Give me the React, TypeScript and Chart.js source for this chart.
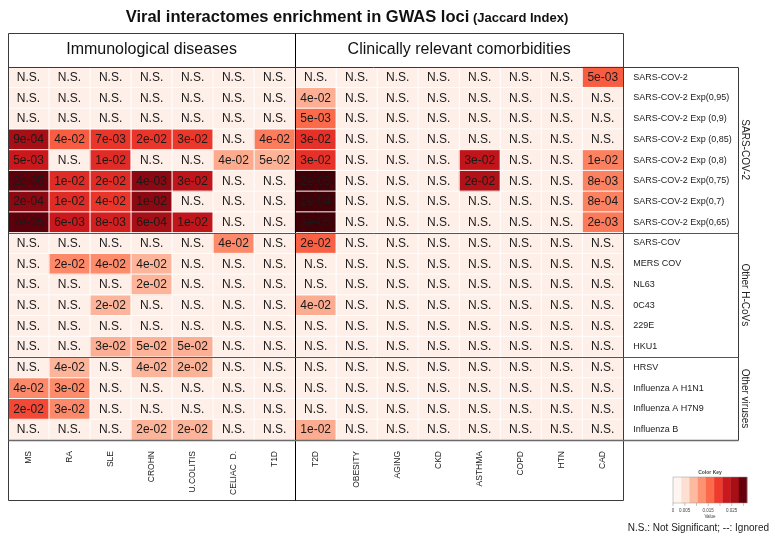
import React, { useEffect, useRef } from "react";
import { Chart, registerables } from "chart.js";

Chart.register(...registerables);

const columns = ["MS", "RA", "SLE", "CROHN", "U.COLITIS", "CELIAC  D.", "T1D", "T2D", "OBESITY", "AGING", "CKD", "ASTHMA", "COPD", "HTN", "CAD"];
const columnGroups = ["Immunological diseases", "Clinically relevant comorbidities"];
const columnGroupSizes = [7, 8];

const rowLabels = [
  "SARS-COV-2",
  "SARS-COV-2 Exp(0,95)",
  "SARS-COV-2 Exp (0,9)",
  "SARS-COV-2 Exp (0,85)",
  "SARS-COV-2 Exp (0,8)",
  "SARS-COV-2 Exp(0,75)",
  "SARS-COV-2 Exp(0,7)",
  "SARS-COV-2 Exp(0,65)",
  "SARS-COV",
  "MERS COV",
  "NL63",
  "0C43",
  "229E",
  "HKU1",
  "HRSV",
  "Influenza A H1N1",
  "Influenza A H7N9",
  "Influenza B",
];
const rowGroups = ["SARS-COV-2", "Other H-CoVs", "Other viruses"];
const rowGroupSizes = [8, 6, 4];

const N = "N.S.";
const pvalues: string[][] = [
  [N, N, N, N, N, N, N, N, N, N, N, N, N, N, "5e-03"],
  [N, N, N, N, N, N, N, "4e-02", N, N, N, N, N, N, N],
  [N, N, N, N, N, N, N, "5e-03", N, N, N, N, N, N, N],
  ["9e-04", "4e-02", "7e-03", "2e-02", "3e-02", N, "4e-02", "3e-02", N, N, N, N, N, N, N],
  ["5e-03", N, "1e-02", N, N, "4e-02", "5e-02", "3e-02", N, N, N, "3e-02", N, N, "1e-02"],
  ["2e-05", "1e-02", "2e-02", "4e-03", "3e-02", N, N, "2e-05", N, N, N, "2e-02", N, N, "8e-03"],
  ["2e-04", "1e-02", "4e-02", "1e-02", N, N, N, "1e-04", N, N, N, N, N, N, "8e-04"],
  ["7e-05", "6e-03", "8e-03", "6e-04", "1e-02", N, N, "3e-05", N, N, N, N, N, N, "2e-03"],
  [N, N, N, N, N, "4e-02", N, "2e-02", N, N, N, N, N, N, N],
  [N, "2e-02", "4e-02", "4e-02", N, N, N, N, N, N, N, N, N, N, N],
  [N, N, N, "2e-02", N, N, N, N, N, N, N, N, N, N, N],
  [N, N, "2e-02", N, N, N, N, "4e-02", N, N, N, N, N, N, N],
  [N, N, N, N, N, N, N, N, N, N, N, N, N, N, N],
  [N, N, "3e-02", "5e-02", "5e-02", N, N, N, N, N, N, N, N, N, N],
  [N, "4e-02", N, "4e-02", "2e-02", N, N, N, N, N, N, N, N, N, N],
  ["4e-02", "3e-02", N, N, N, N, N, N, N, N, N, N, N, N, N],
  ["2e-02", "3e-02", N, N, N, N, N, N, N, N, N, N, N, N, N],
  [N, N, N, "2e-02", "2e-02", N, N, "1e-02", N, N, N, N, N, N, N],
];

const jaccard: number[][] = [
  [0, 0, 0, 0, 0, 0, 0, 0, 0, 0, 0, 0, 0, 0, 0.015],
  [0, 0, 0, 0, 0, 0, 0, 0.008, 0, 0, 0, 0, 0, 0, 0],
  [0, 0, 0, 0, 0, 0, 0, 0.014, 0, 0, 0, 0, 0, 0, 0],
  [0.0245, 0.015, 0.018, 0.018, 0.0178, 0, 0.0123, 0.0185, 0, 0, 0, 0, 0, 0, 0],
  [0.021, 0, 0.019, 0, 0, 0.0084, 0.0077, 0.0185, 0, 0, 0, 0.022, 0, 0, 0.012],
  [0.029, 0.019, 0.019, 0.026, 0.022, 0, 0, 0.0315, 0, 0, 0, 0.0235, 0, 0, 0.012],
  [0.026, 0.019, 0.018, 0.026, 0, 0, 0, 0.0315, 0, 0, 0, 0, 0, 0, 0.012],
  [0.029, 0.021, 0.0203, 0.0245, 0.022, 0, 0, 0.0315, 0, 0, 0, 0, 0, 0, 0.0126],
  [0, 0, 0, 0, 0, 0.0112, 0, 0.0147, 0, 0, 0, 0, 0, 0, 0],
  [0, 0.0112, 0.011, 0.0075, 0, 0, 0, 0, 0, 0, 0, 0, 0, 0, 0],
  [0, 0, 0, 0.0075, 0, 0, 0, 0, 0, 0, 0, 0, 0, 0, 0],
  [0, 0, 0.0075, 0, 0, 0, 0, 0.0083, 0, 0, 0, 0, 0, 0, 0],
  [0, 0, 0, 0, 0, 0, 0, 0, 0, 0, 0, 0, 0, 0, 0],
  [0, 0, 0.008, 0.0077, 0.008, 0, 0, 0, 0, 0, 0, 0, 0, 0, 0],
  [0, 0.0075, 0, 0.0075, 0.0078, 0, 0, 0, 0, 0, 0, 0, 0, 0, 0],
  [0.0112, 0.011, 0, 0, 0, 0, 0, 0, 0, 0, 0, 0, 0, 0, 0],
  [0.0165, 0.0112, 0, 0, 0, 0, 0, 0, 0, 0, 0, 0, 0, 0, 0],
  [0, 0, 0, 0.0075, 0.0075, 0, 0, 0.0083, 0, 0, 0, 0, 0, 0, 0],
];

const cellStops = ["#FEEFE9", "#FEE0D2", "#FCBBA1", "#FC9272", "#FB6A4A", "#EF3B2C", "#CB181D", "#A50F15", "#67000D", "#3F0007"];
const keyColors = ["#FFF5F0", "#FEE0D2", "#FCBBA1", "#FC9272", "#FB6A4A", "#EF3B2C", "#CB181D", "#A50F15", "#67000D"];
const keyMax = 0.0315;
const keyTicks = [0, 0.005, 0.01, 0.015, 0.02, 0.025, 0.03];
const keyTickLabels = ["0", "0.005", "", "0.015", "", "0.025", ""];

const title = "Viral interactomes enrichment in GWAS loci";
const titleSuffix = " (Jaccard Index)";
const footnote = "N.S.: Not Significant; --: Ignored";

const BIN = 0.0035;

function hexToRgb(h: string) {
  const n = parseInt(h.slice(1), 16);
  return [(n >> 16) & 255, (n >> 8) & 255, n & 255];
}
function cellColor(v: number) {
  const t = Math.max(0, Math.min(cellStops.length - 1, v / BIN));
  const i = Math.min(Math.floor(t), cellStops.length - 2);
  const f = t - i;
  const a = hexToRgb(cellStops[i]);
  const b = hexToRgb(cellStops[i + 1]);
  const c = a.map((x, k) => Math.round(x + (b[k] - x) * f));
  return `rgb(${c[0]},${c[1]},${c[2]})`;
}

const FONT = '"Liberation Sans", Arial, sans-serif';
const NARROW = '"Liberation Sans Narrow", "Liberation Sans", Arial, sans-serif';

export default function App() {
  const ref = useRef<HTMLCanvasElement | null>(null);
  useEffect(() => {
    const canvas = ref.current!;
    const decor = {
      id: "decor",
      afterDraw(chart: any) {
        const ctx = chart.ctx as CanvasRenderingContext2D;
        const xs = chart.scales.x;
        const ys = chart.scales.y;
        const area = chart.chartArea;
        const L = area.left, R = area.right, T = area.top, B = area.bottom;
        const colW = (R - L) / columns.length;
        const colX = (c: number) => xs.getPixelForValue(c);
        const rowY = (r: number) => ys.getPixelForValue(r);
        const rowH = Math.abs(rowY(1) - rowY(0));

        ctx.save();
        // white grid lines
        ctx.strokeStyle = "#ffffff";
        ctx.lineWidth = 1;
        ctx.beginPath();
        for (let c = 1; c < columns.length; c++) {
          const x = L + c * colW;
          ctx.moveTo(x, T);
          ctx.lineTo(x, B);
        }
        for (let r = 1; r < rowLabels.length; r++) {
          const y = rowY(r);
          ctx.moveTo(L, y);
          ctx.lineTo(R, y);
        }
        ctx.stroke();

        // cell text
        ctx.fillStyle = "#1a1a1a";
        ctx.font = `12px ${FONT}`;
        ctx.textAlign = "center";
        ctx.textBaseline = "middle";
        for (let r = 0; r < rowLabels.length; r++) {
          for (let c = 0; c < columns.length; c++) {
            ctx.fillText(pvalues[r][c], colX(c), rowY(r) + rowH / 2 + 0.5);
          }
        }

        // frame lines
        const headTop = 33.5;
        const labBottom = 500.5;
        const rightBox = 738.5;
        const divX = Math.round(L + columnGroupSizes[0] * colW) + 0.5;
        const lx = Math.round(L) + 0.5;
        const rx = Math.round(R) + 0.5;
        const ty = Math.round(T) + 0.5;
        const by = Math.round(B) + 0.5;
        const line = (x1: number, y1: number, x2: number, y2: number, col: string, w = 1) => {
          ctx.strokeStyle = col;
          ctx.lineWidth = w;
          ctx.beginPath();
          ctx.moveTo(x1, y1);
          ctx.lineTo(x2, y2);
          ctx.stroke();
        };
        const dark = "#3a3a3a";
        line(lx, headTop, rx, headTop, dark);
        line(lx, headTop, lx, labBottom, dark);
        line(rx, headTop, rx, labBottom, dark);
        line(lx, labBottom, rx, labBottom, dark);
        line(divX, headTop, divX, labBottom, "#000");
        line(lx, ty, rightBox, ty, dark);
        line(rightBox, ty, rightBox, by, dark);
        line(lx, by, rightBox, by, "#6a6a6a", 1.5);
        let acc = 0;
        for (let g = 0; g < rowGroupSizes.length - 1; g++) {
          acc += rowGroupSizes[g];
          const y = Math.round(rowY(acc)) + 0.5;
          line(lx, y, rightBox, y, "#555");
        }

        // title
        ctx.fillStyle = "#111";
        ctx.textBaseline = "alphabetic";
        ctx.textAlign = "left";
        ctx.font = `bold 16.5px ${FONT}`;
        const w1 = ctx.measureText(title).width;
        ctx.font = `bold 13px ${NARROW}`;
        const w2 = ctx.measureText(titleSuffix).width;
        const tx = 347 - (w1 + w2) / 2;
        ctx.font = `bold 16.5px ${FONT}`;
        ctx.fillText(title, tx, 22);
        ctx.font = `bold 13px ${NARROW}`;
        ctx.fillText(titleSuffix, tx + w1, 22);

        // column group headers
        ctx.font = `16px ${FONT}`;
        ctx.textAlign = "center";
        ctx.textBaseline = "middle";
        ctx.fillStyle = "#111";
        let start = 0;
        for (let g = 0; g < columnGroups.length; g++) {
          const x0 = L + start * colW;
          const x1 = L + (start + columnGroupSizes[g]) * colW;
          ctx.fillText(columnGroups[g], (x0 + x1) / 2, 50);
          start += columnGroupSizes[g];
        }

        // column labels
        ctx.font = `8.5px ${FONT}`;
        ctx.fillStyle = "#222";
        for (let c = 0; c < columns.length; c++) {
          ctx.save();
          ctx.translate(colX(c), B + 11);
          ctx.rotate(-Math.PI / 2);
          ctx.textAlign = "right";
          ctx.textBaseline = "middle";
          ctx.fillText(columns[c], 0, 0);
          ctx.restore();
        }

        // row labels
        ctx.font = `9px ${FONT}`;
        ctx.textAlign = "left";
        ctx.textBaseline = "middle";
        for (let r = 0; r < rowLabels.length; r++) {
          ctx.fillText(rowLabels[r], R + 10, rowY(r) + rowH / 2);
        }

        // row group labels
        ctx.font = `10px ${FONT}`;
        acc = 0;
        for (let g = 0; g < rowGroups.length; g++) {
          const y0 = rowY(acc);
          const y1 = rowY(acc + rowGroupSizes[g]);
          acc += rowGroupSizes[g];
          ctx.save();
          ctx.translate(745, (y0 + y1) / 2);
          ctx.rotate(Math.PI / 2);
          ctx.textAlign = "center";
          ctx.textBaseline = "middle";
          ctx.fillText(rowGroups[g], 0, 0);
          ctx.restore();
        }

        // color key
        const kx0 = 673, kx1 = 747, ky0 = 477, ky1 = 503;
        const bw = (kx1 - kx0) / keyColors.length;
        for (let i = 0; i < keyColors.length; i++) {
          ctx.fillStyle = keyColors[i];
          ctx.fillRect(kx0 + i * bw, ky0, bw + 0.3, ky1 - ky0);
        }
        ctx.strokeStyle = "#999";
        ctx.lineWidth = 0.5;
        ctx.strokeRect(kx0, ky0, kx1 - kx0, ky1 - ky0);
        ctx.fillStyle = "#444";
        ctx.font = `bold 5px ${FONT}`;
        ctx.textAlign = "center";
        ctx.textBaseline = "alphabetic";
        ctx.fillText("Color Key", (kx0 + kx1) / 2, 474);
        ctx.font = `4.5px ${FONT}`;
        ctx.strokeStyle = "#888";
        for (let i = 0; i < keyTicks.length; i++) {
          const x = kx0 + (keyTicks[i] / keyMax) * (kx1 - kx0);
          ctx.beginPath();
          ctx.moveTo(x, ky1);
          ctx.lineTo(x, ky1 + 3);
          ctx.stroke();
          if (keyTickLabels[i]) ctx.fillText(keyTickLabels[i], x, 512);
        }
        ctx.fillText("Value", (kx0 + kx1) / 2, 518);

        // footnote
        ctx.fillStyle = "#222";
        ctx.font = `10px ${FONT}`;
        ctx.textAlign = "right";
        ctx.textBaseline = "middle";
        ctx.fillText(footnote, 769, 528);
        ctx.restore();
      },
    };

    const chart = new Chart(canvas, {
      type: "bar",
      data: {
        labels: columns,
        datasets: rowLabels.map((name, r) => ({
          label: name,
          data: columns.map(() => [r, r + 1]) as any,
          backgroundColor: columns.map((_, c) => cellColor(jaccard[r][c])),
          borderWidth: 0,
          grouped: false,
          barPercentage: 1,
          categoryPercentage: 1,
        })) as any,
      },
      options: {
        responsive: false,
        animation: false,
        devicePixelRatio: 1,
        layout: { padding: { left: 8, top: 66.7, right: 775 - 623.3, bottom: 538 - 440 } },
        plugins: { legend: { display: false }, tooltip: { enabled: false }, title: { display: false } },
        scales: {
          x: { type: "category", display: false, offset: true },
          y: { type: "linear", display: false, min: 0, max: 18, reverse: true },
        },
      } as any,
      plugins: [decor],
    });
    return () => chart.destroy();
  }, []);
  return (
    <div style={{ position: "absolute", left: 0, top: 0, width: 775, height: 538, background: "#fff" }}>
      <canvas ref={ref} width={775} height={538} style={{ display: "block" }} />
    </div>
  );
}
